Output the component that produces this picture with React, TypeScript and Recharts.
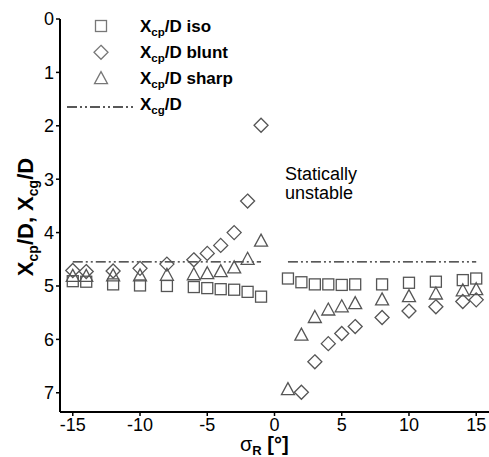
import { ScatterChart, Scatter, XAxis, YAxis, ReferenceLine } from "recharts";

// sideslip angle sigma_R [deg] and centre of pressure / diameter
const isoSigma = [-15, -14, -12, -10, -8, -6, -5, -4, -3, -2, -1, 1, 2, 3, 4, 5, 6, 8, 10, 12, 14, 15];
const isoXcp = [4.91, 4.92, 4.97, 4.99, 5.0, 5.02, 5.04, 5.06, 5.07, 5.11, 5.2, 4.86, 4.93, 4.97, 4.97, 4.98, 4.97, 4.97, 4.94, 4.92, 4.89, 4.86];

const bluntSigma = [-15, -14, -12, -10, -8, -6, -5, -4, -3, -2, -1, 2, 3, 4, 5, 6, 8, 10, 12, 14, 15];
const bluntXcp = [4.71, 4.73, 4.72, 4.67, 4.59, 4.51, 4.39, 4.24, 4.0, 3.41, 1.99, 6.99, 6.42, 6.08, 5.89, 5.76, 5.59, 5.47, 5.39, 5.29, 5.26];

const sharpSigma = [-15, -14, -12, -10, -8, -6, -5, -4, -3, -2, -1, 1, 2, 3, 4, 5, 6, 8, 10, 12, 14, 15];
const sharpXcp = [4.82, 4.82, 4.81, 4.81, 4.8, 4.79, 4.77, 4.73, 4.66, 4.5, 4.16, 6.94, 5.92, 5.59, 5.45, 5.39, 5.33, 5.26, 5.2, 5.15, 5.09, 5.07];

const xcg = 4.55;
const xcgRanges = [
  [-15, -1],
  [1, 15],
];

const xTicks = [-15, -10, -5, 0, 5, 10, 15];
const yTicks = [0, 1, 2, 3, 4, 5, 6, 7];

const toPoints = (xs: number[], ys: number[]) => xs.map((x, i) => ({ x, y: ys[i] }));

const FONT = "'Liberation Sans', Arial, sans-serif";
const MARK = "#555";
const DASH = "10 3 2 3 2 3";

const Square = (p: any) => (
  <rect x={p.cx - 5.5} y={p.cy - 5.5} width={11} height={11} fill="none" stroke={p.color || MARK} strokeWidth={1.3} />
);
const Diamond = (p: any) => (
  <path
    d={`M${p.cx},${p.cy - 7} L${p.cx + 7},${p.cy} L${p.cx},${p.cy + 7} L${p.cx - 7},${p.cy} Z`}
    fill="none"
    stroke={p.color || MARK}
    strokeWidth={1.3}
  />
);
const Triangle = (p: any) => (
  <path
    d={`M${p.cx},${p.cy - 7} L${p.cx + 6.5},${p.cy + 5} L${p.cx - 6.5},${p.cy + 5} Z`}
    fill="none"
    stroke={p.color || MARK}
    strokeWidth={1.3}
  />
);

function LegendBox() {
  const rows = [
    { shape: Square, sub: "cp", rest: "/D iso" },
    { shape: Diamond, sub: "cp", rest: "/D blunt" },
    { shape: Triangle, sub: "cp", rest: "/D sharp" },
  ];
  return (
    <g fontFamily={FONT} fontWeight="bold" fontSize={17} fill="#000">
      {rows.map((r, i) => {
        const y = 26 + i * 26.3;
        const S = r.shape;
        return (
          <g key={i}>
            <S cx={101} cy={y} color="#777" />
            <text x={140} y={y + 5.5}>
              X<tspan dy={4} fontSize={11.5}>{r.sub}</tspan>
              <tspan dy={-4}>{r.rest}</tspan>
            </text>
          </g>
        );
      })}
      <line x1={67} x2={136} y1={107} y2={107} stroke="#222" strokeWidth={1.3} strokeDasharray={DASH} />
      <text x={140} y={110}>
        X<tspan dy={4} fontSize={11.5}>cg</tspan>
        <tspan dy={-4}>/D</tspan>
      </text>
    </g>
  );
}

function Annotations() {
  return (
    <g fontFamily={FONT} fill="#000">
      <text x={285} y={180} fontSize={18}>Statically</text>
      <text x={285} y={199} fontSize={18}>unstable</text>
      <text transform="translate(33,217) rotate(-90)" textAnchor="middle" fontSize={22} fontWeight="bold">
        X<tspan dy={5} fontSize={14}>cp</tspan>
        <tspan dy={-5}>/D, X</tspan>
        <tspan dy={5} fontSize={14}>cg</tspan>
        <tspan dy={-5}>/D</tspan>
      </text>
      <text x={240} y={451} fontSize={20} fontWeight="bold">
        <tspan fontWeight="normal">σ</tspan>
        <tspan dy={4} fontSize={13}>R</tspan>
        <tspan dy={-4}> [°]</tspan>
      </text>
    </g>
  );
}

export default function App() {
  const tick = { fontSize: 18, fill: "#000", fontFamily: FONT };
  return (
    <div style={{ position: "absolute", left: 0, top: 0, background: "#fff" }}>
      <ScatterChart width={489} height={457} margin={{ top: 19, right: 0, bottom: 0, left: 0 }}>
        <XAxis
          type="number"
          dataKey="x"
          domain={[-15.95, 15.95]}
          ticks={xTicks}
          height={45}
          tick={tick}
          tickSize={4}
          axisLine={{ stroke: "#000", strokeWidth: 2 }}
          tickLine={{ stroke: "#000", strokeWidth: 1.5 }}
        />
        <YAxis
          type="number"
          dataKey="y"
          reversed
          domain={[0, 7.36]}
          ticks={yTicks}
          width={60}
          tick={tick}
          tickSize={4}
          axisLine={{ stroke: "#000", strokeWidth: 2 }}
          tickLine={{ stroke: "#000", strokeWidth: 1.5 }}
        />
        {xcgRanges.map(([a, b], i) => (
          <ReferenceLine
            key={i}
            segment={[
              { x: a, y: xcg },
              { x: b, y: xcg },
            ]}
            stroke="#222"
            strokeWidth={1.3}
            strokeDasharray={DASH}
          />
        ))}
        <Scatter data={toPoints(isoSigma, isoXcp)} shape={Square} isAnimationActive={false} />
        <Scatter data={toPoints(bluntSigma, bluntXcp)} shape={Diamond} isAnimationActive={false} />
        <Scatter data={toPoints(sharpSigma, sharpXcp)} shape={Triangle} isAnimationActive={false} />
        <LegendBox />
        <Annotations />
      </ScatterChart>
    </div>
  );
}
